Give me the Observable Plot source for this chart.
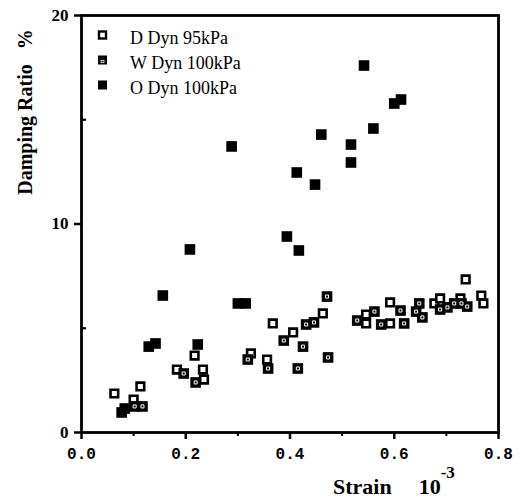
<!DOCTYPE html>
<html><head><meta charset="utf-8">
<script src="https://cdn.jsdelivr.net/npm/d3@7"></script>
<script src="https://cdn.jsdelivr.net/npm/@observablehq/plot@0.6"></script>
<style>
html,body{margin:0;padding:0;background:#fff;}
#chart{width:524px;height:501px;}
</style></head><body><div id="chart"></div>
<script>
const seriesNames = ["D Dyn 95kPa", "W Dyn 100kPa", "O Dyn 100kPa"];

const dStrain = [0.063,0.100,0.113,0.183,0.217,0.233,0.235,0.325,0.356,0.367,0.406,0.463,0.546,0.546,0.592,0.592,0.677,0.688,0.727,0.737,0.767,0.771];
const dDamp   = [1.87, 1.58, 2.21, 3.02, 3.69, 3.02, 2.54, 3.79, 3.50, 5.23, 4.80, 5.71, 5.66, 5.23, 6.24, 5.23, 6.19, 6.43, 6.43, 7.34, 6.57, 6.19];

const wStrain = [0.102,0.117,0.196,0.219,0.319,0.358,0.388,0.415,0.425,0.431,0.446,0.471,0.473,0.529,0.562,0.575,0.612,0.619,0.642,0.648,0.654,0.688,0.702,0.715,0.729,0.740];
const wDamp   = [1.25, 1.25, 2.83, 2.40, 3.50, 3.07, 4.41, 3.07, 4.12, 5.18, 5.28, 6.52, 3.60, 5.37, 5.80, 5.18, 5.85, 5.23, 5.80, 6.19, 5.52, 5.90, 6.00, 6.19, 6.19, 6.04];

const oStrain = [0.077,0.083,0.129,0.142,0.156,0.208,0.223,0.288,0.300,0.315,0.394,0.417,0.413,0.448,0.460,0.517,0.517,0.542,0.560,0.600,0.613];
const oDamp   = [0.96, 1.15, 4.12, 4.27, 6.57, 8.78, 4.22, 13.72,6.19, 6.19, 9.40, 8.73, 12.47,11.89,14.29,13.81,12.95,17.60,14.58,15.78,15.97];

const xTicks = [0, 0.2, 0.4, 0.6, 0.8];
const xMinor = [0.1, 0.3, 0.5, 0.7];
const yTicks = [0, 10, 20];
const yMinor = [5, 15];

const rows = (xs, ys) => xs.map((x, i) => ({strain: x, damp: ys[i]}));
const dRows = rows(dStrain, dDamp);
const wRows = rows(wStrain, wDamp);
const oRows = rows(oStrain, oDamp);

const plot = Plot.plot({
  width: 524, height: 501,
  marginLeft: 81, marginRight: 26, marginTop: 15, marginBottom: 69,
  x: {domain: [0, 0.8]},
  y: {domain: [0, 20]},
  style: {fontFamily: "'Liberation Serif', serif", background: "white", color: "black"},
  marks: [
    Plot.axisY(yTicks, {tickSize: 7, tickPadding: 6, strokeWidth: 2.5, fontSize: 17, fontWeight: "bold", label: null}),
    Plot.axisY(yMinor, {tickSize: 4, dx: 5, strokeWidth: 2.2, tickFormat: () => "", label: null}),
    Plot.axisX(xTicks, {tickSize: 7, tickPadding: 8, strokeWidth: 2.5, fontFamily: "'Liberation Mono', monospace", fontSize: 16, fontWeight: "bold", tickFormat: d3.format(".1f"), label: null}),
    Plot.axisX(xMinor, {tickSize: 4, strokeWidth: 2, tickFormat: () => "", label: null}),
    Plot.frame({stroke: "black", strokeWidth: 2.8}),
    Plot.dot(dRows, {x: "strain", y: "damp", symbol: "square", r: 4.3, fill: "white", stroke: "black", strokeWidth: 2.6}),
    Plot.dot(wRows, {x: "strain", y: "damp", symbol: "square", r: 6, fill: "black"}),
    Plot.dot(wRows, {x: "strain", y: "damp", symbol: "square", r: 1.7, fill: "none", stroke: "white", strokeWidth: 1}),
    Plot.dot(oRows, {x: "strain", y: "damp", symbol: "square", r: 6, fill: "black"})
  ]
});
document.getElementById("chart").append(plot);

const svg = d3.select(plot);
// y-axis title
svg.append("text")
  .attr("transform", "translate(27,112) rotate(-90)")
  .attr("text-anchor", "middle")
  .attr("dominant-baseline", "middle")
  .attr("font-family", "'Liberation Serif', serif")
  .attr("font-weight", "bold")
  .attr("font-size", 20)
  .text("Damping Ratio\u00a0\u00a0 %");
// x-axis title
const xt = svg.append("text")
  .attr("x", 333).attr("y", 494)
  .attr("text-anchor", "start")
  .attr("font-family", "'Liberation Serif', serif")
  .attr("font-weight", "bold")
  .attr("font-size", 22);
xt.append("tspan").text("Strain");
xt.append("tspan").attr("dx", 27).text("10");
xt.append("tspan").attr("dy", -16).attr("font-size", 17).text("-3");

// legend
const legY = [38, 63, 88];
const lg = svg.append("g");
seriesNames.forEach((name, i) => {
  const cy = legY[i] - 3;
  if (i === 0) {
    lg.append("rect").attr("x", 99).attr("y", cy - 3.5).attr("width", 7).attr("height", 7)
      .attr("fill", "white").attr("stroke", "black").attr("stroke-width", 2.4);
  } else if (i === 1) {
    lg.append("rect").attr("x", 98).attr("y", cy - 4.5).attr("width", 9).attr("height", 9).attr("fill", "black");
    lg.append("rect").attr("x", 101).attr("y", cy + 0.5).attr("width", 3).attr("height", 2)
      .attr("fill", "none").attr("stroke", "white").attr("stroke-width", 0.8);
  } else {
    lg.append("rect").attr("x", 98).attr("y", cy - 4.5).attr("width", 9).attr("height", 9).attr("fill", "black");
  }
  lg.append("text").attr("x", 130).attr("y", legY[i]).attr("dy", "0.35em")
    .attr("text-anchor", "start")
    .attr("font-family", "'Liberation Serif', serif").attr("font-size", 18)
    .text(name);
});
</script>
</body></html>
